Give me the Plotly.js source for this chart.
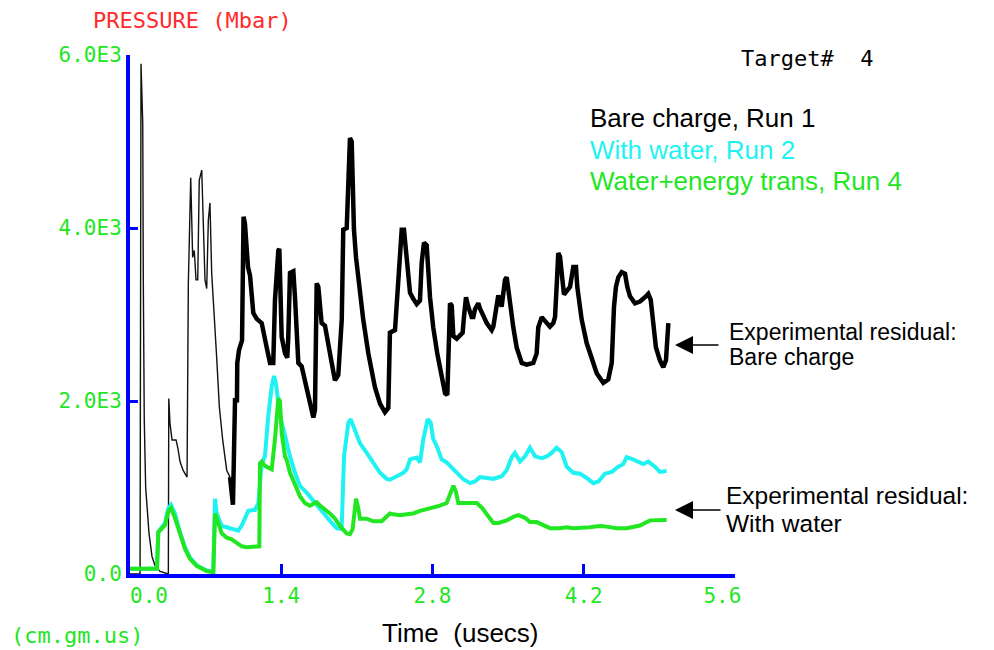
<!DOCTYPE html>
<html>
<head>
<meta charset="utf-8">
<script src="https://cdn.plot.ly/plotly-3.0.1.min.js"></script>
<style>html,body{margin:0;padding:0;background:#fff;}#chart{width:994px;height:650px;}</style>
</head>
<body>
<div id="chart"></div>
<script>
// ---- data (time in usecs, pressure in Mbar) ----
const bareEarlyX = [0, 0.093, 0.102, 0.118, 0.123, 0.132, 0.145, 0.157, 0.176, 0.204, 0.231, 0.278, 0.342, 0.355, 0.359, 0.370, 0.389, 0.426, 0.444, 0.463, 0.491, 0.528, 0.540, 0.562, 0.580, 0.595, 0.611, 0.627, 0.641, 0.664, 0.694, 0.710, 0.725, 0.740, 0.756, 0.787, 0.802, 0.827, 0.858, 0.895, 0.926];
const bareEarlyY = [0, 0, 5900, 5210, 3430, 1780, 1000, 820, 470, 200, 100, 30, 0, 0, 2030, 1745, 1550, 1550, 1450, 1300, 1200, 1120, 3360, 4580, 3660, 3740, 3400, 3400, 4550, 4670, 3400, 3300, 4090, 4290, 3480, 2900, 2510, 1930, 1550, 1200, 1120];

const bareLateX = [0.926, 0.945, 0.953, 0.972, 0.990, 0.993, 1.009, 1.037, 1.051, 1.064, 1.092, 1.111, 1.141, 1.173, 1.219, 1.265, 1.296, 1.326, 1.342, 1.373, 1.382, 1.404, 1.435, 1.456, 1.465, 1.481, 1.512, 1.527, 1.558, 1.589, 1.620, 1.650, 1.682, 1.697, 1.712, 1.728, 1.743, 1.774, 1.805, 1.835, 1.867, 1.897, 1.928, 1.960, 1.974, 2.006, 2.036, 2.052, 2.073, 2.092, 2.122, 2.159, 2.206, 2.267, 2.314, 2.360, 2.391, 2.406, 2.453, 2.493, 2.515, 2.536, 2.561, 2.592, 2.622, 2.654, 2.684, 2.700, 2.721, 2.746, 2.777, 2.807, 2.844, 2.876, 2.916, 2.937, 2.946, 2.962, 2.978, 2.993, 3.024, 3.054, 3.079, 3.091, 3.110, 3.131, 3.163, 3.178, 3.193, 3.224, 3.239, 3.302, 3.348, 3.363, 3.378, 3.394, 3.409, 3.440, 3.471, 3.487, 3.517, 3.548, 3.579, 3.626, 3.672, 3.733, 3.764, 3.779, 3.811, 3.841, 3.887, 3.918, 3.934, 3.949, 3.964, 3.980, 3.996, 4.017, 4.042, 4.073, 4.103, 4.128, 4.140, 4.159, 4.181, 4.227, 4.273, 4.320, 4.381, 4.427, 4.459, 4.468, 4.480, 4.498, 4.520, 4.551, 4.582, 4.603, 4.628, 4.674, 4.720, 4.767, 4.797, 4.820, 4.844, 4.868, 4.905, 4.936, 4.961, 4.967, 4.983];
const bareLateY = [1120, 800, 800, 2010, 2010, 2440, 2590, 2700, 4130, 4050, 3550, 3450, 3020, 2950, 2900, 2620, 2440, 2440, 3170, 3740, 3760, 2740, 2550, 2500, 2740, 3480, 3500, 3200, 2440, 2400, 2240, 2050, 1900, 1810, 1900, 3360, 3320, 2900, 2870, 2620, 2440, 2240, 2300, 2940, 3980, 4000, 5040, 5000, 3980, 3660, 3320, 2940, 2550, 2160, 1970, 1870, 1920, 2790, 2820, 3510, 3980, 3980, 3600, 3250, 3180, 3120, 3160, 3600, 3830, 3800, 3200, 2850, 2550, 2370, 2090, 2070, 2620, 3130, 3100, 2750, 2720, 2750, 2790, 2970, 3200, 3090, 2970, 2970, 3060, 3130, 3070, 2900, 2820, 2860, 2970, 3090, 3220, 3090, 3400, 3430, 3090, 2850, 2620, 2440, 2420, 2440, 2550, 2850, 2970, 2930, 2860, 2900, 2970, 3320, 3710, 3670, 3520, 3230, 3270, 3320, 3550, 3550, 3320, 3170, 2940, 2670, 2480, 2320, 2210, 2250, 2440, 2750, 3090, 3320, 3430, 3490, 3470, 3320, 3210, 3130, 3150, 3200, 3240, 3170, 2850, 2620, 2470, 2390, 2470, 2620, 2900];

const waterX = [0, 0.250, 0.262, 0.293, 0.324, 0.354, 0.379, 0.416, 0.463, 0.509, 0.555, 0.617, 0.710, 0.771, 0.787, 0.802, 0.849, 0.895, 0.941, 1.002, 1.034, 1.064, 1.095, 1.141, 1.157, 1.188, 1.219, 1.249, 1.280, 1.312, 1.333, 1.351, 1.388, 1.435, 1.481, 1.527, 1.573, 1.635, 1.712, 1.759, 1.805, 1.867, 1.913, 1.959, 1.981, 2.021, 2.043, 2.067, 2.129, 2.191, 2.252, 2.314, 2.376, 2.406, 2.469, 2.530, 2.561, 2.592, 2.654, 2.684, 2.715, 2.755, 2.783, 2.807, 2.839, 2.885, 2.931, 2.993, 3.085, 3.147, 3.193, 3.239, 3.363, 3.440, 3.487, 3.533, 3.563, 3.610, 3.656, 3.702, 3.749, 3.811, 3.857, 3.903, 3.949, 3.996, 4.042, 4.103, 4.165, 4.227, 4.288, 4.335, 4.397, 4.459, 4.520, 4.566, 4.597, 4.644, 4.705, 4.751, 4.797, 4.859, 4.905, 4.967];
const waterY = [60, 60, 485, 540, 590, 760, 800, 700, 480, 310, 190, 100, 40, 25, 870, 705, 555, 540, 520, 500, 560, 640, 730, 740, 740, 820, 1280, 1360, 1830, 2170, 2290, 2200, 1830, 1600, 1360, 1170, 1020, 940, 820, 750, 670, 590, 530, 520, 1360, 1750, 1790, 1710, 1510, 1400, 1280, 1170, 1100, 1090, 1130, 1170, 1210, 1325, 1345, 1290, 1560, 1790, 1750, 1560, 1480, 1325, 1290, 1210, 1095, 1050, 1070, 1120, 1100, 1130, 1200, 1350, 1400, 1300, 1360, 1460, 1360, 1340, 1360, 1400, 1460, 1410, 1240, 1170, 1160, 1110, 1050, 1070, 1160, 1180, 1240, 1270, 1350, 1330, 1290, 1270, 1300, 1240, 1180, 1190];

const energyX = [0, 0.250, 0.262, 0.293, 0.324, 0.354, 0.379, 0.416, 0.463, 0.509, 0.555, 0.617, 0.710, 0.771, 0.787, 0.817, 0.849, 0.895, 0.941, 0.988, 1.034, 1.080, 1.157, 1.197, 1.203, 1.219, 1.249, 1.280, 1.312, 1.342, 1.373, 1.388, 1.404, 1.435, 1.450, 1.481, 1.527, 1.573, 1.620, 1.666, 1.712, 1.728, 1.759, 1.805, 1.851, 1.897, 1.944, 2.006, 2.036, 2.061, 2.073, 2.092, 2.113, 2.129, 2.191, 2.252, 2.330, 2.376, 2.406, 2.437, 2.499, 2.561, 2.622, 2.684, 2.746, 2.807, 2.869, 2.931, 2.978, 2.993, 3.017, 3.039, 3.085, 3.147, 3.209, 3.255, 3.302, 3.363, 3.409, 3.487, 3.548, 3.594, 3.656, 3.702, 3.764, 3.825, 3.887, 3.980, 4.042, 4.103, 4.165, 4.258, 4.304, 4.366, 4.427, 4.505, 4.597, 4.658, 4.720, 4.813, 4.905, 4.967];
const energyY = [60, 60, 485, 530, 565, 720, 760, 650, 450, 290, 175, 95, 35, 20, 700, 590, 470, 420, 400, 360, 320, 310, 310, 320, 1280, 1300, 1250, 1230, 1210, 1560, 2030, 2000, 1630, 1360, 1320, 1170, 1020, 900, 820, 790, 820, 830, 790, 750, 700, 640, 555, 470, 460, 520, 700, 870, 760, 640, 640, 610, 610, 670, 700, 690, 680, 690, 700, 730, 750, 760, 790, 820, 980, 1020, 950, 820, 820, 820, 820, 770, 690, 590, 590, 620, 660, 680, 650, 600, 600, 570, 530, 530, 540, 530, 530, 540, 550, 555, 545, 530, 530, 545, 560, 620, 625, 625];

const xTickVals = [0, 1.4, 2.8, 4.2, 5.6];
const xTickText = ['0.0', '1.4', '2.8', '4.2', '5.6'];
const yTickVals = [0, 2000, 4000, 6000];
const yTickText = ['0.0', '2.0E3', '4.0E3', '6.0E3'];
const seriesNames = ['Bare charge, Run 1', 'With water, Run 2', 'Water+energy trans, Run 4'];

// ---- styling ----
const BLUE = '#0000ff', GREEN = '#22e622', CYAN = '#1ff2f2', RED = '#ff2a2a';
const MONO = 'DejaVu Sans Mono, monospace';
const SANS = 'Liberation Sans, Arial, sans-serif';
const L = 130, T = 55, W = 605, H = 519;
const px = v => (v - L) / W;
const py = v => (T + H - v) / H;
const NB = '\u00a0';

// first label sits right of its tick, last one left of its tick (as in the original plot package)
const xTickShown = xTickText.map((t, i) => i === 0 ? NB + NB + NB + t : (i === xTickText.length - 1 ? t + NB + NB : t));

const traces = [
  {x: bareEarlyX, y: bareEarlyY, mode: 'lines', line: {color: '#111', width: 1.4}, name: seriesNames[0], showlegend: false},
  {x: waterX, y: waterY, mode: 'lines', line: {color: CYAN, width: 4}, name: seriesNames[1], showlegend: false},
  {x: energyX, y: energyY, mode: 'lines', line: {color: GREEN, width: 4}, name: seriesNames[2], showlegend: false},
  {x: bareLateX, y: bareLateY, mode: 'lines', line: {color: '#000', width: 4.5}, name: seriesNames[0], showlegend: false}
];

const ann = [];
function txt(text, x, y, size, color, family, xanchor) {
  ann.push({text: text, xref: 'paper', yref: 'paper', x: px(x), y: py(y), xanchor: xanchor || 'left', yanchor: 'middle',
            showarrow: false, font: {size: size, color: color, family: family}});
}
txt('PRESSURE (Mbar)', 192, 20, 22, RED, MONO, 'center');
txt('Target#' + NB + NB + '4', 807, 58, 22, '#000', MONO, 'center');
txt('(cm.gm.us)', 77, 635, 22, GREEN, MONO, 'center');
txt('Time' + NB + NB + '(usecs)', 460, 633, 26, '#000', SANS, 'center');
txt(seriesNames[0], 588, 118, 26, '#000', SANS);
txt(seriesNames[1], 588, 150, 26, CYAN, SANS);
txt(seriesNames[2], 588, 181, 26, GREEN, SANS);
txt('Experimental residual:', 727, 332, 23, '#000', SANS);
txt('Bare charge', 727, 357, 23, '#000', SANS);
txt('Experimental residual:', 724, 495, 24.5, '#000', SANS);
txt('With water', 724, 523, 24.5, '#000', SANS);

function arrow(xHead, yHead, len) {
  ann.push({text: '', xref: 'paper', yref: 'paper', x: px(xHead), y: py(yHead), axref: 'pixel', ayref: 'pixel',
            ax: len, ay: 0, showarrow: true, arrowhead: 2, arrowsize: 2.4, arrowwidth: 1.5, arrowcolor: '#000'});
}
arrow(675, 345, 45);
arrow(675, 510, 47);

const layout = {
  width: 994, height: 650,
  margin: {l: L, r: 994 - L - W, t: T, b: 650 - T - H},
  paper_bgcolor: '#fff', plot_bgcolor: '#fff',
  showlegend: false,
  xaxis: {range: [0, 5.6], tickvals: xTickVals, ticktext: xTickShown, ticks: 'inside', ticklen: 10, tickwidth: 3,
          tickcolor: BLUE, showline: true, linecolor: BLUE, linewidth: 4, showgrid: false, zeroline: false,
          tickfont: {family: MONO, size: 21, color: GREEN}, fixedrange: true},
  yaxis: {range: [0, 6000], tickvals: yTickVals, ticktext: yTickText, ticks: 'inside', ticklen: 8, tickwidth: 3,
          tickcolor: BLUE, showline: true, linecolor: BLUE, linewidth: 4, showgrid: false, zeroline: false,
          tickfont: {family: MONO, size: 21, color: GREEN}, fixedrange: true},
  annotations: ann
};

Plotly.newPlot('chart', traces, layout, {staticPlot: true, displayModeBar: false});
</script>
</body>
</html>
